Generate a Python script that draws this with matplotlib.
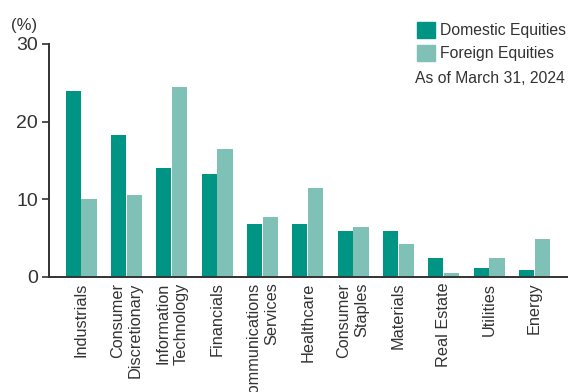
import matplotlib
matplotlib.use("Agg")
import matplotlib.pyplot as plt
from matplotlib import font_manager
from matplotlib.patches import Patch
import numpy as np

sectors = ["Industrials", "Consumer\nDiscretionary", "Information\nTechnology",
           "Financials", "Communications\nServices", "Healthcare", "Consumer\nStaples",
           "Materials", "Real Estate", "Utilities", "Energy"]
domestic = [24.0, 18.3, 14.0, 13.2, 6.8, 6.8, 5.9, 5.9, 2.4, 1.2, 0.9]
foreign = [10.1, 10.5, 24.5, 16.5, 7.7, 11.5, 6.5, 4.2, 0.5, 2.4, 4.9]
yticks = [0, 10, 20, 30]

DOM_COLOR = "#009484"
FOR_COLOR = "#7fc0b7"
TEXT = "#333333"

names = {f.name for f in font_manager.fontManager.ttflist}
narrow = "Liberation Sans Narrow" if "Liberation Sans Narrow" in names else "Liberation Sans"
plt.rcParams["font.family"] = ["Liberation Sans", "DejaVu Sans"]

fig = plt.figure(figsize=(5.68, 3.92), dpi=100)
ax = fig.add_axes([0.0863, 0.2934, 0.9137, 0.5944])

x = np.arange(len(sectors))
w = 0.335
ax.bar(x - 0.175, domestic, w, color=DOM_COLOR)
ax.bar(x + 0.175, foreign, w, color=FOR_COLOR)

ax.set_xlim(-0.706, 10.74)
ax.set_ylim(0, 30)
ax.set_yticks(yticks)
ax.tick_params(axis="y", direction="out", length=5, width=1.2, color=TEXT,
               labelsize=14, labelcolor=TEXT, pad=3)
ax.set_xticks(x)
ax.set_xticklabels(sectors, rotation=90, ha="center", va="top", multialignment="right",
                   fontsize=11.7, color=TEXT, family=[narrow, "DejaVu Sans"],
                   linespacing=1.25)
ax.tick_params(axis="x", length=0, pad=4)
for s in ("top", "right"):
    ax.spines[s].set_visible(False)
for s in ("left", "bottom"):
    ax.spines[s].set_color(TEXT)
    ax.spines[s].set_linewidth(1.4)

fig.text(0.02, 0.915, "(%)", fontsize=12, color=TEXT, va="bottom")

handles = [Patch(color=DOM_COLOR, label="Domestic Equities"),
           Patch(color=FOR_COLOR, label="Foreign Equities")]
leg = fig.legend(handles=handles, loc="upper right", bbox_to_anchor=(0.997, 0.944),
                 frameon=False, handlelength=1.15, handleheight=1.15, handletextpad=0.35,
                 labelspacing=0.45, borderpad=0.0, borderaxespad=0.0,
                 prop={"family": [narrow, "DejaVu Sans"], "size": 11.3})
for t in leg.get_texts():
    t.set_color(TEXT)
fig.text(0.995, 0.80, "As of March 31, 2024", ha="right", va="center",
         fontsize=11.3, color=TEXT, family=[narrow, "DejaVu Sans"])

fig.savefig("out.png", dpi=100)
